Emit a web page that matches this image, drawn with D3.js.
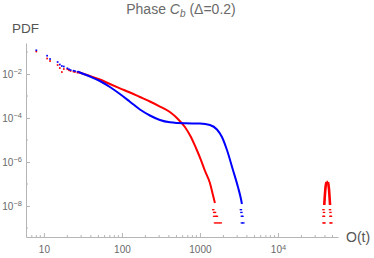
<!DOCTYPE html>
<html>
<head>
<meta charset="utf-8">
<script src="https://cdn.jsdelivr.net/npm/d3@7"></script>
<style>
  body { margin: 0; background: #fff; }
  svg { display: block; font-family: "Liberation Sans", Arial, sans-serif; }
  .axis path, .axis line { stroke: #b5b5b5; }
  .axis text { fill: #6a6a6a; font-size: 10px; }
</style>
</head>
<body>
<svg id="chart"></svg>
<script>
// discrete points at small O(t)
const smallO    = [8, 11, 12, 15, 16, 17, 18, 20, 21, 22, 24, 25, 27];
const smallBlue = [0.12, 0.068, 0.048, 0.0351, 0.027, 0.0231, 0.0219, 0.0182, 0.0164, 0.0152, 0.0141, 0.0137, 0.0127];
const smallRed  = [0.105, 0.0507, 0.039, 0.0256, 0.0187, 0.0123, 0.0169, 0.0165, 0.0148, 0.0138, 0.0128, 0.0124, 0.0115];

// main bodies
const redO   = [27.3, 38.9, 52.2, 70.2, 94.3, 126.7, 170.2, 228.6, 307, 412, 522, 642, 767, 889, 1031, 1159, 1343, 1468, 1556];
const redPdf = [0.0123, 0.0081, 0.00562, 0.00351, 0.00224, 0.00144, 0.000901, 0.000562, 0.000333, 0.000187,
                9.0e-5, 3.9e-5, 1.37e-5, 4.33e-6, 1.23e-6, 4.0e-7, 1.11e-7, 3.16e-8, 1.37e-8];
const blueO   = [27.3, 38.9, 52.2, 70.2, 94.3, 126.7, 170.2, 228.6, 307, 412, 642, 1000, 1343, 1652, 1915, 2220, 2650, 3070, 3356, 3452];
const bluePdf = [0.0127, 0.00769, 0.00481, 0.00256, 0.00123, 0.000551, 0.000243, 0.00013, 8.11e-5, 6.38e-5,
                 5.74e-5, 5.62e-5, 4.81e-5, 3.0e-5, 1.37e-5, 3.51e-6, 4.33e-7, 7.31e-8, 2.08e-8, 1.23e-8];

// single-count tails
const redTailO   = [1480, 1520, 1560, 1520, 1600, 1650, 1560, 1650, 1750, 1850];
const redTailPdf = [6.8e-9, 5.1e-9, 5.1e-9, 3.4e-9, 3.4e-9, 3.4e-9, 1.7e-9, 1.7e-9, 1.7e-9, 1.7e-9];
const blueTailO   = [3350, 3400, 3450, 3500, 3450, 3600];
const blueTailPdf = [6.8e-9, 5.1e-9, 3.4e-9, 3.4e-9, 1.7e-9, 1.7e-9];

// far peak (red)
const spikeLeftO    = [39200, 39700, 40300, 40900, 41840];
const spikeLeftPdf  = [1.11e-8, 2.31e-8, 4.81e-8, 8.1e-8, 1.23e-7];
const spikeRightO   = [43750, 44600, 45300, 45900, 46500];
const spikeRightPdf = [1.23e-7, 8.1e-8, 4.81e-8, 2.31e-8, 1.11e-8];
const spikeTailO   = [38300, 38900, 38300, 38900, 38300, 39500, 46450, 47100, 47100, 47750, 47100, 48400];
const spikeTailPdf = [6.8e-9, 5.1e-9, 3.4e-9, 3.4e-9, 1.7e-9, 1.7e-9, 6.8e-9, 5.1e-9, 3.4e-9, 3.4e-9, 1.7e-9, 1.7e-9];

const xMajor = [10, 100, 1000, 10000];
const xLabels = ['10', '100', '1000', '10^4'];
const yMajor = [1e-2, 1e-4, 1e-6, 1e-8];
const yLabels = ['10^-2', '10^-4', '10^-6', '10^-8'];

const W = 374, H = 258;
const RED = '#ff0000', BLUE = '#0000ff';

const svg = d3.select('#chart').attr('width', W).attr('height', H);

const x = d3.scaleLog().domain([5.9, 58800]).range([26, 338]);
const y = d3.scaleLog().domain([3.9e-10, 0.257]).range([237, 43]);

function supLabel(sel, str) {
  const parts = str.split('^');
  sel.text(null);
  sel.append('tspan').text(parts[0]);
  if (parts[1]) {
    sel.append('tspan').attr('dy', '-0.45em').attr('font-size', '7.5px')
      .text(parts[1].replace('-', '\u2212'));
  }
}

// x axis
const xMinor = [];
[1, 10, 100, 1000, 10000].forEach(d => {
  for (let k = 2; k <= 9; k++) {
    const v = d * k;
    if (v > 5.9 && v < 58800) xMinor.push(v);
  }
});
const gx = svg.append('g').attr('class', 'axis')
  .attr('transform', 'translate(0,237)');
gx.call(d3.axisBottom(x).tickValues(xMajor).tickSize(-4).tickPadding(9).tickSizeOuter(0)
  .tickFormat((d, i) => xLabels[i]));
gx.selectAll('.tick text').each(function(d, i) { supLabel(d3.select(this), xLabels[i]); });
gx.selectAll('.minor').data(xMinor).enter().append('line')
  .attr('class', 'minor')
  .attr('x1', d => x(d)).attr('x2', d => x(d))
  .attr('y1', 0).attr('y2', -2).attr('stroke', '#b5b5b5');

// y axis
const yMinorT = [1e-1, 1e-3, 1e-5, 1e-7, 1e-9];
const gy = svg.append('g').attr('class', 'axis')
  .attr('transform', 'translate(26,0)');
gy.call(d3.axisLeft(y).tickValues(yMajor).tickSize(-4).tickPadding(4).tickSizeOuter(0)
  .tickFormat((d, i) => yLabels[i]));
gy.selectAll('.tick text').each(function(d, i) { supLabel(d3.select(this), yLabels[i]); });
gy.selectAll('.minor').data(yMinorT).enter().append('line')
  .attr('class', 'minor')
  .attr('y1', d => y(d)).attr('y2', d => y(d))
  .attr('x1', 0).attr('x2', 2).attr('stroke', '#b5b5b5');

// labels
const title = svg.append('text').attr('x', 181).attr('y', 14)
  .attr('text-anchor', 'middle').attr('fill', '#6a6a6a').attr('font-size', '14px');
title.append('tspan').text('Phase ');
title.append('tspan').attr('font-style', 'italic').text('C');
title.append('tspan').attr('font-style', 'italic').attr('font-size', '10px').attr('dy', '3').text('b');
title.append('tspan').attr('dy', '-3').text(' (\u0394=0.2)');

svg.append('text').attr('x', 12).attr('y', 33).attr('fill', '#555')
  .attr('font-size', '13.5px').text('PDF');
svg.append('text').attr('x', 346).attr('y', 242).attr('fill', '#555')
  .attr('font-size', '14px').text('O(t)');

// curves
const line = d3.line().x(d => x(d[0])).y(d => y(d[1])).curve(d3.curveMonotoneX);
const zip = (a, b) => a.map((v, i) => [v, b[i]]);

function drawCurve(os, ps, color, w) {
  svg.append('path').datum(zip(os, ps))
    .attr('d', line).attr('fill', 'none')
    .attr('stroke', color).attr('stroke-width', w || 2);
}
function drawDots(os, ps, color, w, h) {
  svg.append('g').selectAll('rect').data(zip(os, ps)).enter().append('rect')
    .attr('x', d => x(d[0]) - w / 2).attr('y', d => y(d[1]) - h / 2)
    .attr('width', w).attr('height', h).attr('fill', color);
}

drawCurve(redO, redPdf, RED);
drawCurve(blueO, bluePdf, BLUE);
drawDots(smallO, smallRed, RED, 1.7, 1.7);
drawDots(smallO, smallBlue, BLUE, 1.7, 1.7);
drawDots(redTailO, redTailPdf, RED, 2.5, 1.3);
drawDots(blueTailO, blueTailPdf, BLUE, 2.5, 1.3);
drawCurve(spikeLeftO, spikeLeftPdf, RED, 2.6);
drawCurve(spikeRightO, spikeRightPdf, RED, 2.6);
svg.append('path').datum([[spikeLeftO[4], spikeLeftPdf[4]], [spikeRightO[0], spikeRightPdf[0]]])
  .attr('d', line).attr('stroke', RED).attr('stroke-width', 2.6);
drawDots(spikeTailO, spikeTailPdf, RED, 2.5, 1.3);
</script>
</body>
</html>
